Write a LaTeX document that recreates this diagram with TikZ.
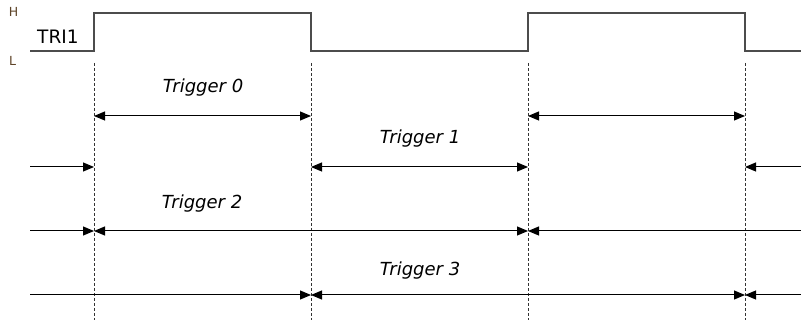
\documentclass[tikz,border=0pt]{standalone}
\usepackage{fontspec}
\setmainfont{DejaVu Sans}
\usetikzlibrary{arrows.meta,positioning}
\definecolor{levelbrown}{HTML}{5E4428}
\tikzset{
  signal/.style={draw=black!70, line width=1.3pt},
  edgeline/.style={draw=black!80, line width=0.8pt, dash pattern=on 3pt off 2pt},
  span/.style={draw=black, line width=1pt},
  bothtips/.style={span, {Triangle[length=11pt,width=9pt]}-{Triangle[length=11pt,width=9pt]}},
  endtip/.style={span, -{Triangle[length=11pt,width=9pt]}},
  starttip/.style={span, {Triangle[length=11pt,width=9pt]}-},
  triglabel/.style={font=\itshape\fontsize{18}{22}\selectfont, anchor=base, inner sep=0pt},
  levellabel/.style={font=\fontsize{12.5}{14}\selectfont, text=levelbrown, inner sep=0pt}
}
\begin{document}
\begin{tikzpicture}[x=1pt,y=-1pt]
   \useasboundingbox (0,0) rectangle (801,323);
   % levels and edges
   \coordinate (hi)  at (0,13);
   \coordinate (lo)  at (0,51);
   \coordinate (bot) at (0,320);
   \coordinate (lft) at (30,0);
   \coordinate (rgt) at (801,0);
   \coordinate (e_1) at (94,63);
   \coordinate (e_2) at (311,63);
   \coordinate (e_3) at (528,63);
   \coordinate (e_4) at (745,63);
   % rows
   \coordinate (r_0) at (0,116);
   \coordinate (r_1) at (0,167);
   \coordinate (r_2) at (0,231);
   \coordinate (r_3) at (0,295);

   \node[levellabel, anchor=base] (H) at (13.5,17) {H};
   \node[levellabel, anchor=base] (L) at (12.5,66) {L};
   \node[anchor=base west, inner sep=0pt, font=\fontsize{18.5}{22}\selectfont] (tri) at (37,44) {TRI1};

   \draw[signal] (lft |- lo) -- (e_1 |- lo) -- (e_1 |- hi) -- (e_2 |- hi)
                 -- (e_2 |- lo) -- (e_3 |- lo) -- (e_3 |- hi) -- (e_4 |- hi)
                 -- (e_4 |- lo) -- (rgt |- lo);

   \draw[edgeline] (e_1) -- (e_1 |- bot);
   \draw[edgeline] (e_2) -- (e_2 |- bot);
   \draw[edgeline] (e_3) -- (e_3 |- bot);
   \draw[edgeline] (e_4) -- (e_4 |- bot);

   % Trigger 0
   \node[triglabel] (trig_0) at (203,93) {Trigger 0};
   \draw[bothtips] (e_1 |- r_0) -- (e_2 |- r_0);
   \draw[bothtips] (e_3 |- r_0) -- (e_4 |- r_0);
   % Trigger 1
   \node[triglabel] (trig_1) at (420,144) {Trigger 1};
   \draw[endtip]   (lft |- r_1) -- (e_1 |- r_1);
   \draw[bothtips] (e_2 |- r_1) -- (e_3 |- r_1);
   \draw[starttip] (e_4 |- r_1) -- (rgt |- r_1);
   % Trigger 2
   \node[triglabel] (trig_2) at (202,209) {Trigger 2};
   \draw[endtip]   (lft |- r_2) -- (e_1 |- r_2);
   \draw[bothtips] (e_1 |- r_2) -- (e_3 |- r_2);
   \draw[starttip] (e_3 |- r_2) -- (rgt |- r_2);
   % Trigger 3
   \node[triglabel] (trig_3) at (420,276) {Trigger 3};
   \draw[endtip]   (lft |- r_3) -- (e_2 |- r_3);
   \draw[bothtips] (e_2 |- r_3) -- (e_4 |- r_3);
   \draw[starttip] (e_4 |- r_3) -- (rgt |- r_3);
\end{tikzpicture}
\end{document}
